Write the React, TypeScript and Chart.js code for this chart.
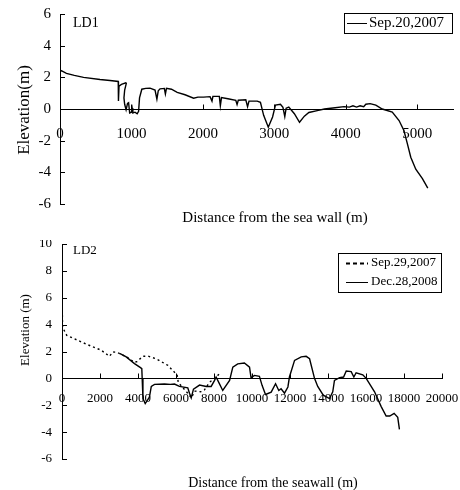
import React, { useEffect, useRef } from "react";
import { Chart, registerables } from "chart.js";

Chart.register(...registerables);

const FONT = '"Liberation Serif", "Times New Roman", Times, serif';

// ---------------- LD1 data ----------------
const ld1Label = "Sep.20,2007";
const ld1Distance = [
  0, 0, 25, 90, 200, 330, 560, 700, 815, 818, 826, 860, 920, 928, 905, 895, 905, 925, 945, 960,
  975, 1000, 1010, 1020, 1050, 1080, 1100, 1113, 1145, 1200, 1260, 1330, 1356, 1375, 1400, 1460,
  1475, 1490, 1560, 1640, 1750, 1870, 1930, 2010, 2100, 2127, 2140, 2230, 2244, 2260, 2350, 2460,
  2478, 2495, 2600, 2625, 2645, 2760, 2805, 2850, 2915, 2975, 3015, 3085, 3120, 3146, 3165, 3202,
  3280, 3352, 3420, 3483, 3600, 3700, 3850, 3975, 4050, 4100, 4150, 4200, 4250, 4280, 4340, 4420,
  4510, 4650, 4745, 4813, 4862, 4909, 4979, 5072, 5147,
];
const ld1Elevation = [
  5.0, 2.45, 2.4, 2.25, 2.12, 2.0, 1.86, 1.8, 1.74, 0.5, 1.45, 1.55, 1.65, 1.62, 1.2, 0.7, 0.3, -0.05, 0.35, 0.4,
  -0.25, -0.2, 0.05, -0.25, -0.2, -0.3, -0.15, 0.7, 1.25, 1.3, 1.32, 1.2, 0.62, 1.15, 1.27, 1.3,
  0.95, 1.3, 1.25, 1.05, 0.9, 0.68, 0.75, 0.75, 0.78, 0.5, 0.8, 0.8, 0.2, 0.72, 0.65, 0.55,
  0.28, 0.55, 0.58, 0.15, 0.5, 0.5, 0.42, -0.4, -1.15, -0.5, 0.25, 0.3, 0.1, -0.48, 0.05, 0.12,
  -0.3, -0.84, -0.45, -0.22, -0.1, 0.0, 0.08, 0.15, 0.12, 0.2, 0.12, 0.2, 0.15, 0.3, 0.34, 0.25,
  0.0, -0.2, -0.73, -1.36, -2.2, -3.05, -3.8, -4.4, -5.0,
];

// ---------------- LD2 data ----------------
const ld2SepLabel = "Sep.29,2007";
const ld2SepDistance = [
  0, 30, 250, 800, 1360, 2060, 2500, 2670, 2900, 3030, 3400, 3815, 3950, 4250, 4520, 4960, 5570,
  6060, 6120, 6400, 6650, 6800, 7000, 7300, 7500, 7760, 8030, 8320,
];
const ld2SepElevation = [
  6.2, 3.8, 3.2, 2.85, 2.5, 2.1, 1.64, 1.96, 1.95, 1.84, 1.6, 1.2, 1.25, 1.64, 1.66, 1.46, 0.97,
  0.25, -0.3, -0.75, -1.15, -1.45, -0.95, -1.0, -0.85, -0.3, 0.0, 0.38,
];

const ld2DecLabel = "Dec.28,2008";
const ld2DecDistance = [
  3030, 3380, 3815, 4130, 4200, 4220, 4260, 4380, 4600, 4700, 4870, 5390, 5700, 5920, 6180, 6620,
  6710, 6800, 6920, 7240, 7590, 7850, 8030, 8110, 8250, 8460, 8820, 8990, 9250, 9600, 9870, 9950,
  10130, 10390, 10530, 10710, 11010, 11240, 11410, 11530, 11710, 11890, 11970, 12240, 12590, 12850,
  13030, 13290, 13460, 13750, 14080, 14250, 14340, 14610, 14820, 14960, 15220, 15360, 15480, 15830,
  16010, 16450, 16800, 17060, 17250, 17480, 17670, 17760,
];
const ld2DecElevation = [
  1.86, 1.6, 1.1, 0.8, 0.72, 0.0, -1.5, -1.88, -1.4, -0.6, -0.45, -0.42, -0.45, -0.42, -0.6, -0.7,
  -1.1, -1.45, -0.8, -0.5, -0.6, -0.6, -0.15, 0.1, -0.3, -0.9, -0.15, 0.84, 1.08, 1.14, 0.84, 0.05,
  0.22, 0.15, -0.52, -1.2, -1.02, -0.4, -0.9, -0.77, -1.1, -0.64, 0.1, 1.34, 1.6, 1.64,
  1.46, 0.0, -0.6, -1.25, -1.5, -1.0, -0.15, 0.05, 0.1, 0.55, 0.5, 0.1, 0.42, 0.27,
  0.0, -1.0, -2.1, -2.8, -2.8, -2.6, -2.9, -3.8,
];

// axis ranges / tick labels
const ld1XRange = [0, 5500];
const ld1XTicks = [0, 1000, 2000, 3000, 4000, 5000];
const ld1YRange = [-6, 6];
const ld1YTicks = [-6, -4, -2, 0, 2, 4, 6];

const ld2XRange = [0, 20000];
const ld2XTicks = [0, 2000, 4000, 6000, 8000, 10000, 12000, 14000, 16000, 18000, 20000];
const ld2YRange = [-6, 10];
const ld2YTicks = [-6, -4, -2, 0, 2, 4, 6, 8, 10];

const pts = (xs: number[], ys: number[]) => xs.map((x, i) => ({ x, y: ys[i] }));

type LegendItem = { label: string; dash: number[] | null };

type PanelSpec = {
  datasets: any[];
  xRange: number[];
  xTicks: number[];
  yRange: number[];
  yTicks: number[];
  axisLeft: number;
  padRight: number;
  padTop: number;
  padBottom: number;
  tickSize: number;
  xLabelPad: number;
  yLabelPad: number;
  tag: string;
  tagSize: number;
  tagX: number;
  tagY: number;
  xTitle: string;
  xTitleSize: number;
  xTitleX: number;
  xTitleY: number;
  yTitle: string;
  yTitleSize: number;
  yTitleX: number;
  yTitleY: number;
  legend: LegendItem[];
  legendBox: number[];
  legendRows: number[];
  legendSample: number[];
  legendTextX: number;
  legendSize: number;
};

function decorPlugin(p: PanelSpec) {
  return {
    id: "decor",
    afterDraw(chart: any) {
      const ctx = chart.ctx as CanvasRenderingContext2D;
      const xs = chart.scales.x;
      const ys = chart.scales.y;
      const y0 = Math.round(ys.getPixelForValue(0)) + 0.5;
      ctx.save();
      ctx.strokeStyle = "#000";
      ctx.lineWidth = 1;
      ctx.setLineDash([]);
      // inward tick marks
      ctx.beginPath();
      ys.ticks.forEach((t: any) => {
        const py = Math.round(ys.getPixelForValue(t.value)) + 0.5;
        ctx.moveTo(xs.left, py);
        ctx.lineTo(xs.left + 5, py);
      });
      xs.ticks.forEach((t: any) => {
        if (t.value === 0) return;
        const px = Math.round(xs.getPixelForValue(t.value)) + 0.5;
        ctx.moveTo(px, y0);
        ctx.lineTo(px, y0 - 5);
      });
      ctx.stroke();

      ctx.fillStyle = "#000";
      // panel tag
      ctx.font = `${p.tagSize}px ${FONT}`;
      ctx.textAlign = "left";
      ctx.textBaseline = "middle";
      ctx.fillText(p.tag, p.tagX, p.tagY);

      // x title
      ctx.font = `${p.xTitleSize}px ${FONT}`;
      ctx.textAlign = "center";
      ctx.fillText(p.xTitle, p.xTitleX, p.xTitleY);

      // y title
      ctx.save();
      ctx.translate(p.yTitleX, p.yTitleY);
      ctx.rotate(-Math.PI / 2);
      ctx.font = `${p.yTitleSize}px ${FONT}`;
      ctx.textAlign = "center";
      ctx.fillText(p.yTitle, 0, 0);
      ctx.restore();

      // legend
      const [bx, by, bw, bh] = p.legendBox;
      ctx.fillStyle = "#fff";
      ctx.fillRect(bx, by, bw, bh);
      ctx.strokeStyle = "#000";
      ctx.lineWidth = 1;
      ctx.strokeRect(bx + 0.5, by + 0.5, bw, bh);
      ctx.fillStyle = "#000";
      ctx.font = `${p.legendSize}px ${FONT}`;
      ctx.textAlign = "left";
      ctx.textBaseline = "middle";
      p.legend.forEach((item, i) => {
        const ry = p.legendRows[i];
        ctx.beginPath();
        if (item.dash) {
          ctx.setLineDash(item.dash);
          ctx.lineWidth = 2;
        } else {
          ctx.setLineDash([]);
          ctx.lineWidth = 1;
        }
        ctx.moveTo(p.legendSample[0], Math.round(ry) + 0.5);
        ctx.lineTo(p.legendSample[1], Math.round(ry) + 0.5);
        ctx.stroke();
        ctx.setLineDash([]);
        ctx.fillText(item.label, p.legendTextX, ry);
      });
      ctx.restore();
    },
  };
}

function makeConfig(p: PanelSpec): any {
  return {
    type: "line",
    data: { datasets: p.datasets },
    options: {
      animation: false,
      responsive: false,
      maintainAspectRatio: false,
      devicePixelRatio: 1,
      events: [],
      layout: { padding: { left: 0, right: p.padRight, top: p.padTop, bottom: p.padBottom } },
      plugins: { legend: { display: false }, tooltip: { enabled: false }, title: { display: false } },
      elements: { point: { radius: 0 }, line: { tension: 0 } },
      scales: {
        x: {
          type: "linear",
          position: { y: 0 },
          min: p.xRange[0],
          max: p.xRange[1],
          grid: { display: false, drawTicks: false },
          border: { display: true, color: "#000", width: 1 },
          ticks: {
            autoSkip: false,
            maxRotation: 0,
            minRotation: 0,
            padding: p.xLabelPad,
            color: "#000",
            font: { family: FONT, size: p.tickSize },
            callback: (v: any) => String(v),
          },
          afterBuildTicks: (s: any) => {
            s.ticks = p.xTicks.map((v) => ({ value: v }));
          },
          afterFit: (s: any) => {
            s.paddingLeft = 0;
            s.paddingRight = 0;
          },
        },
        y: {
          type: "linear",
          position: "left",
          min: p.yRange[0],
          max: p.yRange[1],
          grid: { display: false, drawTicks: false },
          border: { display: true, color: "#000", width: 1 },
          ticks: {
            padding: p.yLabelPad,
            color: "#000",
            font: { family: FONT, size: p.tickSize },
            callback: (v: any) => String(v),
          },
          afterBuildTicks: (s: any) => {
            s.ticks = p.yTicks.map((v) => ({ value: v }));
          },
          afterFit: (s: any) => {
            s.width = p.axisLeft;
            s.paddingTop = 0;
            s.paddingBottom = 0;
          },
        },
      },
    },
    plugins: [decorPlugin(p)],
  };
}

const topSpec: PanelSpec = {
  datasets: [
    {
      label: ld1Label,
      data: pts(ld1Distance, ld1Elevation),
      borderColor: "#000",
      borderWidth: 1.4,
      fill: false,
    },
  ],
  xRange: ld1XRange,
  xTicks: ld1XTicks,
  yRange: ld1YRange,
  yTicks: ld1YTicks,
  axisLeft: 60,
  padRight: 7,
  padTop: 14,
  padBottom: 36,
  tickSize: 15,
  xLabelPad: 16,
  yLabelPad: 9,
  tag: "LD1",
  tagSize: 14,
  tagX: 73,
  tagY: 23,
  xTitle: "Distance from the sea wall (m)",
  xTitleSize: 15,
  xTitleX: 275,
  xTitleY: 218,
  yTitle: "Elevation(m)",
  yTitleSize: 17,
  yTitleX: 25,
  yTitleY: 110,
  legend: [{ label: ld1Label, dash: null }],
  legendBox: [344, 13, 108, 20],
  legendRows: [23],
  legendSample: [347, 367],
  legendTextX: 369,
  legendSize: 15,
};

const bottomSpec: PanelSpec = {
  datasets: [
    {
      label: ld2SepLabel,
      data: pts(ld2SepDistance, ld2SepElevation),
      borderColor: "#000",
      borderWidth: 1.4,
      borderDash: [2, 3],
      fill: false,
    },
    {
      label: ld2DecLabel,
      data: pts(ld2DecDistance, ld2DecElevation),
      borderColor: "#000",
      borderWidth: 1.4,
      fill: false,
    },
  ],
  xRange: ld2XRange,
  xTicks: ld2XTicks,
  yRange: ld2YRange,
  yTicks: ld2YTicks,
  axisLeft: 62,
  padRight: 18,
  padTop: 4,
  padBottom: 31,
  tickSize: 13,
  xLabelPad: 12,
  yLabelPad: 10,
  tag: "LD2",
  tagSize: 13,
  tagX: 73,
  tagY: 11,
  xTitle: "Distance from the seawall (m)",
  xTitleSize: 14,
  xTitleX: 273,
  xTitleY: 243,
  yTitle: "Elevation (m)",
  yTitleSize: 13,
  yTitleX: 26,
  yTitleY: 90,
  legend: [
    { label: ld2SepLabel, dash: [4, 3] },
    { label: ld2DecLabel, dash: null },
  ],
  legendBox: [338, 13, 103, 39],
  legendRows: [23, 42],
  legendSample: [346, 368],
  legendTextX: 371,
  legendSize: 13,
};

function Panel({ spec, top, height }: { spec: PanelSpec; top: number; height: number }) {
  const ref = useRef<HTMLCanvasElement | null>(null);
  useEffect(() => {
    if (!ref.current) return;
    const chart = new Chart(ref.current, makeConfig(spec));
    return () => chart.destroy();
  }, [spec]);
  return (
    <canvas
      ref={ref}
      width={460}
      height={height}
      style={{ position: "absolute", left: 0, top, width: 460, height, display: "block" }}
    />
  );
}

export default function App() {
  return (
    <div
      style={{
        position: "fixed",
        left: 0,
        top: 0,
        width: 460,
        height: 490,
        background: "#fff",
        overflow: "hidden",
      }}
    >
      <Panel spec={topSpec} top={0} height={240} />
      <Panel spec={bottomSpec} top={240} height={250} />
    </div>
  );
}
